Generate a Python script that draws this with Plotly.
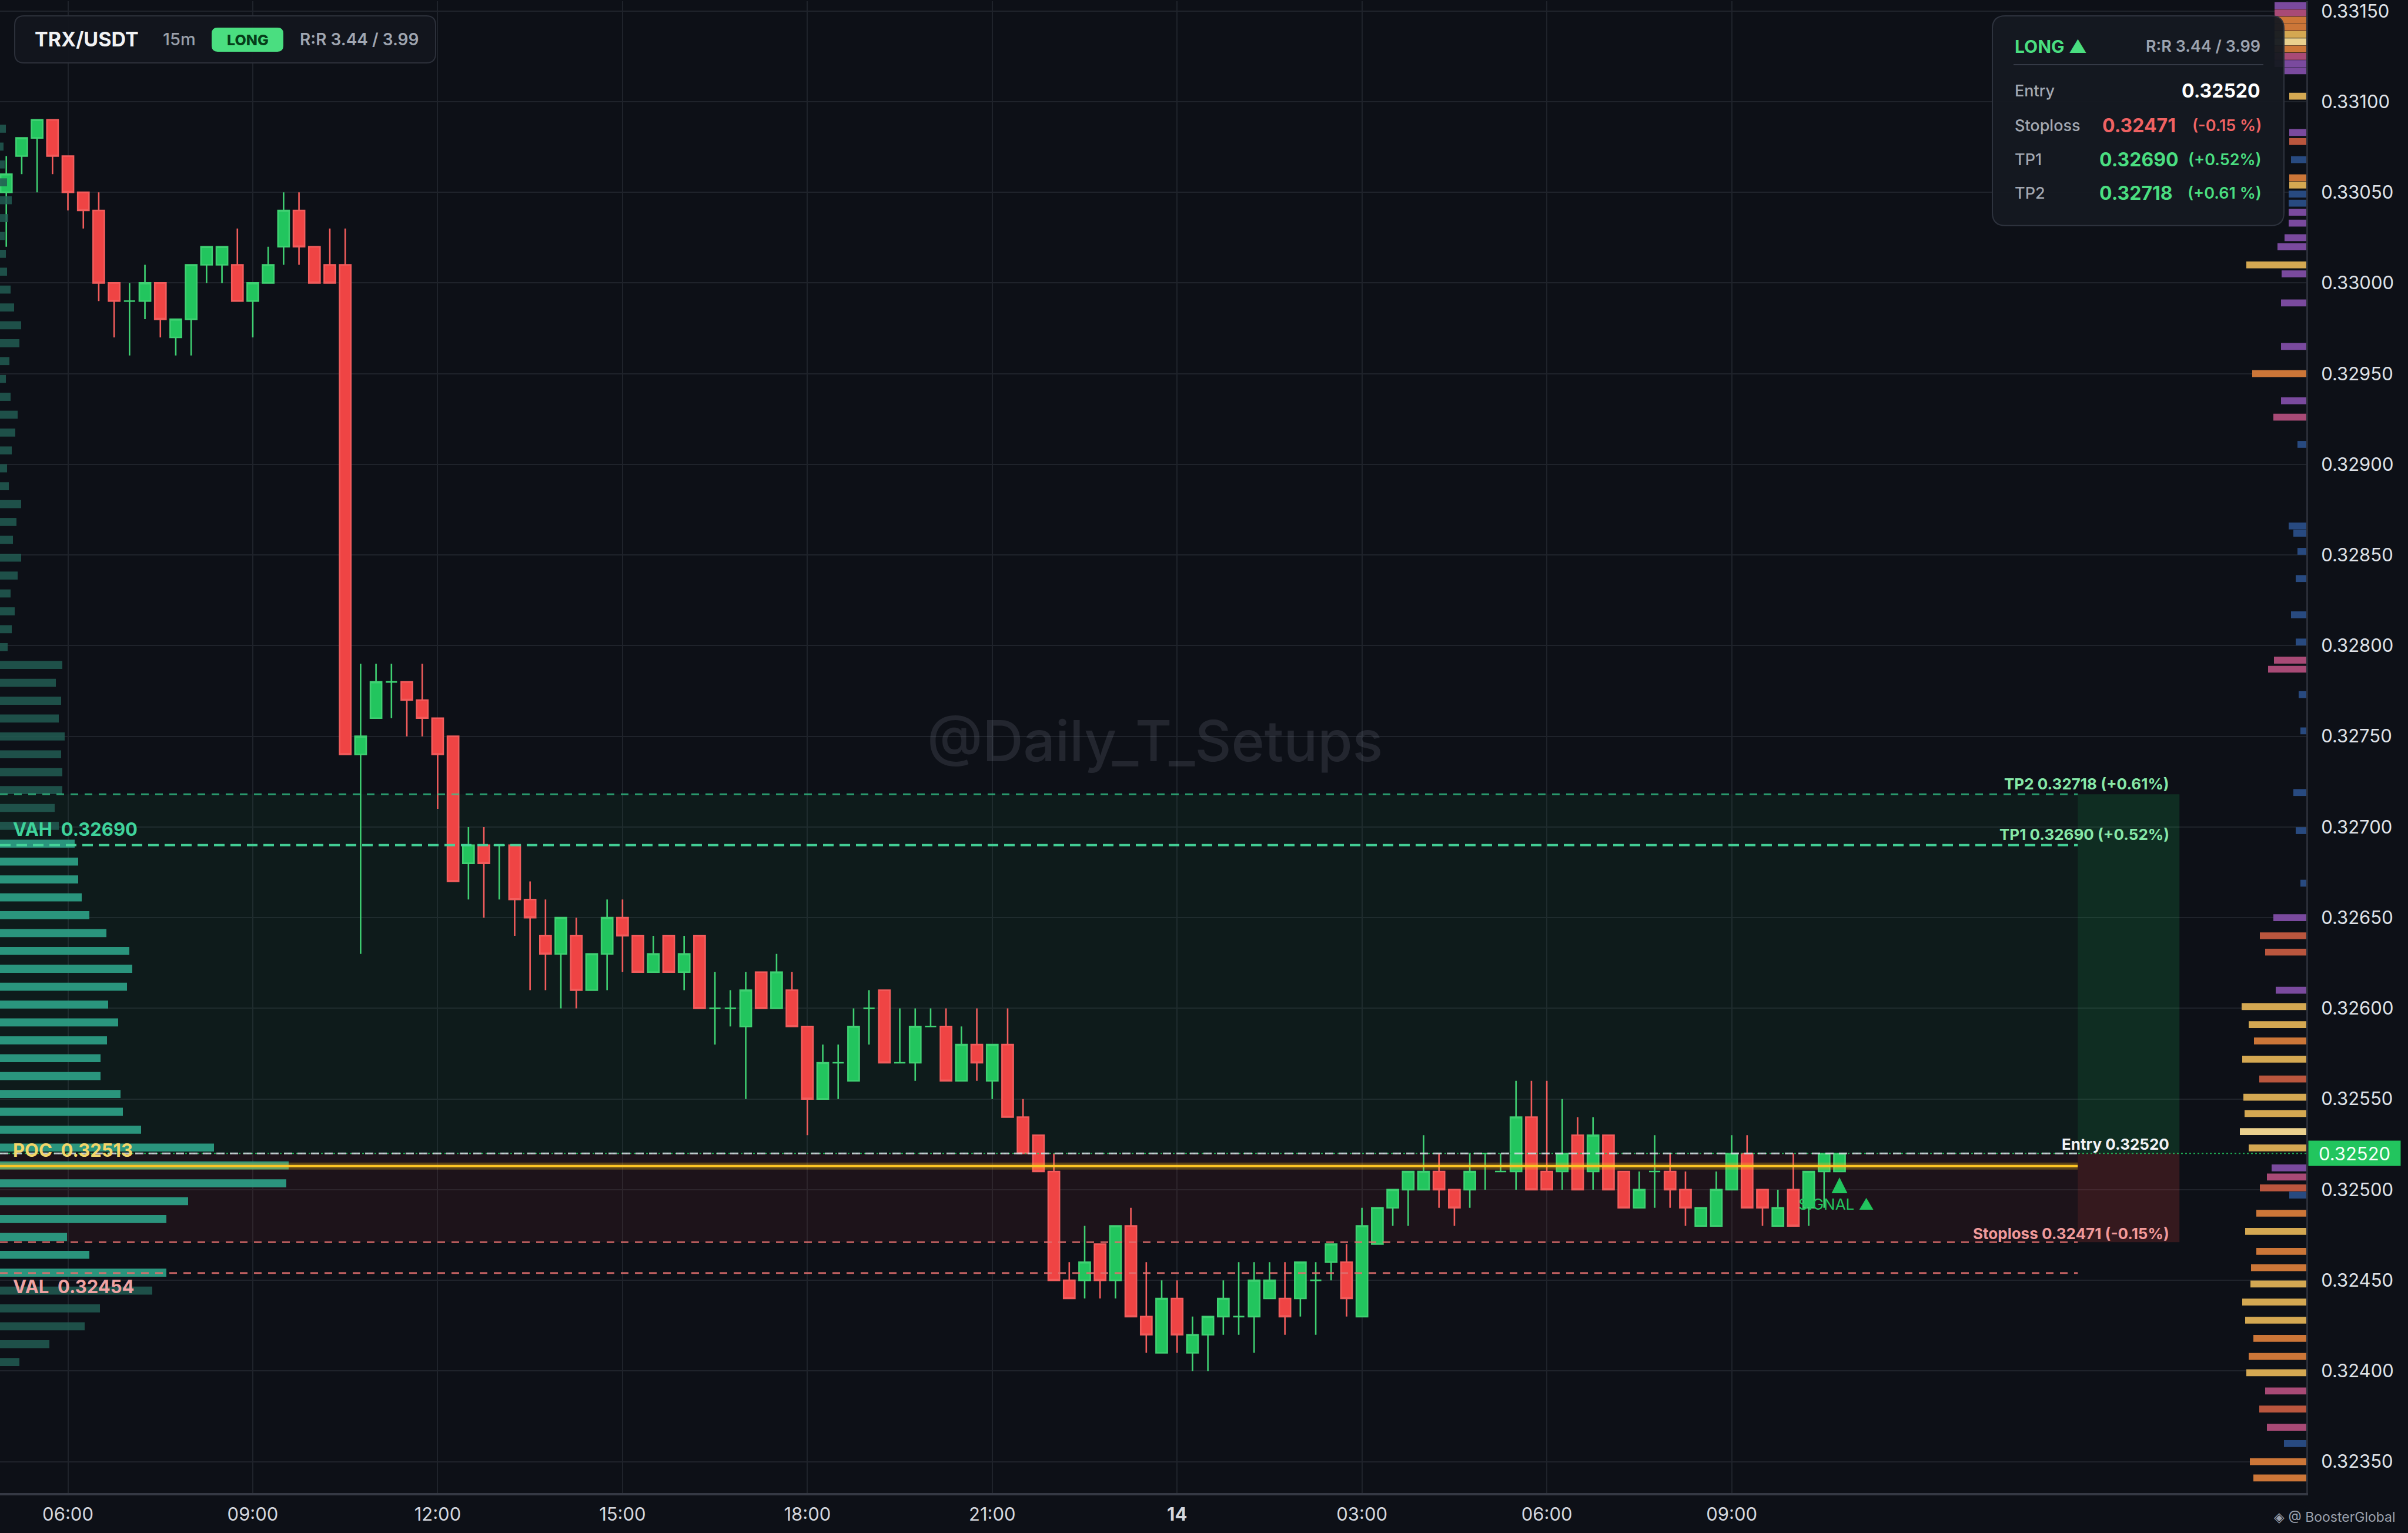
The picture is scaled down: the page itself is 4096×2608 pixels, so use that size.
import plotly.graph_objects as go
import pandas as pd

# ---------------- data ----------------
SYMBOL = "TRX/USDT"
TIMEFRAME = "15m"
SIDE = "LONG"
RR = ("3.44", "3.99")
START = "2025-06-13 05:00"

OPEN = [0.3305, 0.3307, 0.3308, 0.3309, 0.3307, 0.3305, 0.3304, 0.3300, 0.3299, 0.3299,
        0.3300, 0.3297, 0.3298, 0.3301, 0.3301, 0.3301, 0.3299, 0.3300, 0.3302, 0.3304,
        0.3302, 0.3301, 0.3301, 0.3274, 0.3276, 0.3278, 0.3278, 0.3277, 0.3276, 0.3275,
        0.3268, 0.3269, 0.3269, 0.3269, 0.3266, 0.3264, 0.3263, 0.3264, 0.3261, 0.3263,
        0.3265, 0.3264, 0.3262, 0.3264, 0.3262, 0.3264, 0.3260, 0.3260, 0.3259, 0.3262,
        0.3260, 0.3261, 0.3259, 0.3255, 0.3257, 0.3256, 0.3260, 0.3261, 0.3257, 0.3257,
        0.3259, 0.3259, 0.3256, 0.3258, 0.3256, 0.3258, 0.3254, 0.3253, 0.3251, 0.3245,
        0.3245, 0.3247, 0.3245, 0.3248, 0.3243, 0.3241, 0.3244, 0.3241, 0.3242, 0.3243,
        0.3243, 0.3243, 0.3244, 0.3244, 0.3244, 0.3245, 0.3246, 0.3246, 0.3243, 0.3247,
        0.3249, 0.3250, 0.3250, 0.3251, 0.3250, 0.3250, 0.3252, 0.3251, 0.3251, 0.3254,
        0.3251, 0.3251, 0.3253, 0.3251, 0.3253, 0.3251, 0.3249, 0.3251, 0.3251, 0.3250,
        0.3248, 0.3248, 0.3250, 0.3252, 0.3250, 0.3248, 0.3250, 0.3249, 0.3251, 0.3251]
HIGH = [0.3307, 0.3308, 0.3309, 0.3309, 0.3307, 0.3305, 0.3305, 0.3300, 0.3300, 0.3301,
        0.3300, 0.3298, 0.3301, 0.3302, 0.3302, 0.3303, 0.3300, 0.3302, 0.3305, 0.3305,
        0.3302, 0.3303, 0.3303, 0.3279, 0.3279, 0.3279, 0.3278, 0.3279, 0.3276, 0.3275,
        0.3270, 0.3270, 0.3269, 0.3269, 0.3267, 0.3266, 0.3265, 0.3265, 0.3263, 0.3266,
        0.3266, 0.3264, 0.3264, 0.3264, 0.3264, 0.3264, 0.3262, 0.3261, 0.3262, 0.3262,
        0.3263, 0.3262, 0.3259, 0.3258, 0.3258, 0.3260, 0.3261, 0.3261, 0.3260, 0.3260,
        0.3260, 0.3260, 0.3259, 0.3260, 0.3258, 0.3260, 0.3255, 0.3253, 0.3252, 0.3246,
        0.3248, 0.3247, 0.3248, 0.3249, 0.3246, 0.3245, 0.3245, 0.3243, 0.3243, 0.3245,
        0.3246, 0.3246, 0.3246, 0.3246, 0.3246, 0.3246, 0.3247, 0.3247, 0.3249, 0.3249,
        0.3250, 0.3251, 0.3253, 0.3252, 0.3250, 0.3252, 0.3252, 0.3252, 0.3256, 0.3256,
        0.3256, 0.3255, 0.3254, 0.3254, 0.3253, 0.3251, 0.3251, 0.3253, 0.3252, 0.3251,
        0.3249, 0.3251, 0.3253, 0.3253, 0.3250, 0.3250, 0.3252, 0.3251, 0.3252, 0.3252]
LOW = [0.3302, 0.3306, 0.3305, 0.3306, 0.3304, 0.3303, 0.3299, 0.3297, 0.3296, 0.3298,
       0.3297, 0.3296, 0.3296, 0.3300, 0.3300, 0.3299, 0.3297, 0.3300, 0.3301, 0.3301,
       0.3300, 0.3300, 0.3274, 0.3263, 0.3276, 0.3276, 0.3275, 0.3275, 0.3271, 0.3267,
       0.3266, 0.3265, 0.3266, 0.3264, 0.3261, 0.3261, 0.3260, 0.3260, 0.3261, 0.3261,
       0.3262, 0.3262, 0.3262, 0.3262, 0.3261, 0.3260, 0.3258, 0.3259, 0.3255, 0.3260,
       0.3260, 0.3259, 0.3253, 0.3255, 0.3255, 0.3256, 0.3258, 0.3257, 0.3257, 0.3256,
       0.3259, 0.3256, 0.3256, 0.3256, 0.3255, 0.3254, 0.3252, 0.3251, 0.3245, 0.3244,
       0.3244, 0.3244, 0.3244, 0.3243, 0.3241, 0.3241, 0.3241, 0.3240, 0.3240, 0.3242,
       0.3242, 0.3241, 0.3244, 0.3242, 0.3243, 0.3242, 0.3245, 0.3243, 0.3243, 0.3247,
       0.3248, 0.3248, 0.3250, 0.3249, 0.3248, 0.3249, 0.3250, 0.3251, 0.3250, 0.3250,
       0.3250, 0.3250, 0.3250, 0.3250, 0.3250, 0.3249, 0.3249, 0.3249, 0.3249, 0.3248,
       0.3248, 0.3248, 0.3250, 0.3249, 0.3248, 0.3248, 0.3248, 0.3248, 0.3249, 0.3251]
CLOSE = [0.3306, 0.3308, 0.3309, 0.3307, 0.3305, 0.3304, 0.3300, 0.3299, 0.3299, 0.3300,
         0.3298, 0.3298, 0.3301, 0.3302, 0.3302, 0.3299, 0.3300, 0.3301, 0.3304, 0.3302,
         0.3300, 0.3300, 0.3274, 0.3275, 0.3278, 0.3278, 0.3277, 0.3276, 0.3274, 0.3267,
         0.3269, 0.3268, 0.3269, 0.3266, 0.3265, 0.3263, 0.3265, 0.3261, 0.3263, 0.3265,
         0.3264, 0.3262, 0.3263, 0.3262, 0.3263, 0.3260, 0.3260, 0.3260, 0.3261, 0.3260,
         0.3262, 0.3259, 0.3255, 0.3257, 0.3257, 0.3259, 0.3260, 0.3257, 0.3257, 0.3259,
         0.3259, 0.3256, 0.3258, 0.3257, 0.3258, 0.3254, 0.3252, 0.3251, 0.3245, 0.3244,
         0.3246, 0.3245, 0.3248, 0.3243, 0.3242, 0.3244, 0.3242, 0.3242, 0.3243, 0.3244,
         0.3243, 0.3245, 0.3245, 0.3243, 0.3246, 0.3245, 0.3247, 0.3244, 0.3248, 0.3249,
         0.3250, 0.3251, 0.3251, 0.3250, 0.3249, 0.3251, 0.3252, 0.3251, 0.3254, 0.3250,
         0.3250, 0.3252, 0.3250, 0.3253, 0.3250, 0.3249, 0.3250, 0.3251, 0.3250, 0.3249,
         0.3249, 0.3250, 0.3252, 0.3249, 0.3249, 0.3249, 0.3248, 0.3251, 0.3252, 0.3252]

ENTRY = 0.32520
STOPLOSS = 0.32471
TP1 = 0.32690
TP2 = 0.32718
VAH = 0.32690
POC = 0.32513
VAL = 0.32454

# volume profile, bins from lowest to highest price
VP_VOLUME = [33, 84, 144, 170, 259, 283, 152, 114, 283, 320,
             487, 491, 364, 240, 209, 205, 171, 171, 182, 201,
             184, 216, 225, 220, 181, 152, 139, 133, 133, 127,
             100, 93, 106, 106, 104, 110, 100, 104, 95, 106,
             13, 20, 25, 18, 30, 36, 22, 28, 36, 15,
             12, 20, 26, 30, 18, 10, 16, 33, 36, 24,
             18, 12, 10, 8, 14, 20, 12, 8, 6, 10]

# order-book liquidity (right side)
LIQ_PRICE = [0.33153, 0.33149, 0.33145, 0.33141, 0.33137, 0.33133, 0.33129, 0.33125, 0.33121, 0.33117,
             0.33103, 0.33083, 0.33078, 0.33068, 0.33058, 0.33054, 0.33049, 0.33044, 0.33039, 0.33033,
             0.33025, 0.33020, 0.33010, 0.33005, 0.32989, 0.32965, 0.32950, 0.32935, 0.32926, 0.32911,
             0.32866, 0.32862, 0.32852, 0.32837, 0.32817, 0.32802, 0.32792, 0.32787, 0.32773, 0.32753,
             0.32719, 0.32698, 0.32669, 0.32650, 0.32640, 0.32631, 0.32610, 0.32601, 0.32591, 0.32582,
             0.32572, 0.32561, 0.32551, 0.32542, 0.32532, 0.32523, 0.32512, 0.32507, 0.32501, 0.32497,
             0.32487, 0.32477, 0.32466, 0.32457, 0.32448, 0.32438, 0.32428, 0.32418, 0.32408, 0.32399,
             0.32389, 0.32379, 0.32369, 0.32360, 0.32350, 0.32341]
LIQ_SIZE = [54, 54, 54, 54, 54, 54, 54, 54, 54, 40,
            29, 29, 29, 26, 29, 29, 30, 30, 30, 30,
            37, 49, 102, 42, 43, 43, 92, 43, 56, 15,
            30, 22, 15, 18, 26, 18, 55, 65, 13, 10,
            22, 18, 10, 56, 79, 70, 52, 110, 98, 89,
            109, 80, 107, 105, 113, 98, 59, 67, 79, 29,
            85, 104, 85, 94, 95, 109, 104, 90, 98, 102,
            70, 80, 67, 38, 96, 90]
LIQ_KIND = ["p", "pk", "o", "o", "y", "ly", "o", "pk", "p", "p",
            "y", "p", "r", "b", "o", "y", "b", "b", "p", "p",
            "p", "p", "y", "p", "p", "p", "o", "p", "pk", "b",
            "b", "b", "b", "b", "b", "b", "pk", "pk", "b", "b",
            "b", "b", "b", "p", "r", "r", "p", "y", "y", "o",
            "y", "r", "y", "y", "ly", "y", "p", "pk", "r", "b",
            "o", "y", "o", "o", "y", "y", "y", "o", "o", "y",
            "pk", "r", "pk", "b", "o", "o"]

Y_TICKS = [0.3235, 0.3240, 0.3245, 0.3250, 0.3255, 0.3260, 0.3265, 0.3270, 0.3275,
           0.3280, 0.3285, 0.3290, 0.3295, 0.3300, 0.3305, 0.3310, 0.3315]
X_TICKS = ["2025-06-13 06:00", "2025-06-13 09:00", "2025-06-13 12:00", "2025-06-13 15:00",
           "2025-06-13 18:00", "2025-06-13 21:00", "2025-06-14 00:00", "2025-06-14 03:00",
           "2025-06-14 06:00", "2025-06-14 09:00"]
X_TICK_TEXT = ["06:00", "09:00", "12:00", "15:00", "18:00", "21:00", "<b>14</b>",
               "03:00", "06:00", "09:00"]

X_RANGE = ["2025-06-13 04:53:52", "2025-06-14 18:19:30"]
Y_RANGE = [0.323327, 0.331554]
PROJ_END = "2025-06-14 14:37"
PROJ_BOX_END = "2025-06-14 16:16"
LABEL_X = "2025-06-14 16:07"

# ---------------- style ----------------
W, H = 4096, 2608
ML, MR, MT, MB = 0, 173, 0, 68
PW, PH = W - ML - MR, H - MT - MB
FONT = "Inter"
BG = "#0d1017"
GREEN = "#22c55e"
GREEN_L = "#3fd072"
RED = "#ef4444"
RED_L = "#f25c5c"

times = pd.date_range(START, periods=len(OPEN), freq="15min")

fig = go.Figure()

# ---- liquidity heatmap (right) ----
liq_colors = {"p": "rgb(122,74,158)", "pk": "rgb(168,74,118)", "o": "rgb(204,118,56)",
              "r": "rgb(186,86,62)", "y": "rgb(212,168,82)", "ly": "rgb(234,208,142)",
              "b": "rgb(40,74,128)"}
fig.add_trace(go.Bar(orientation="h", y=LIQ_PRICE, x=LIQ_SIZE, xaxis="x3", yaxis="y",
                     marker=dict(color=[liq_colors[k] for k in LIQ_KIND], line=dict(width=0)),
                     width=0.000038, hoverinfo="skip", showlegend=False))

# ---- volume profile (left) ----
vp_low, vp_high = min(LOW), max(HIGH)
nb = len(VP_VOLUME)
bsz = (vp_high - vp_low) / nb
vp_centers = [vp_low + (k + 0.5) * bsz for k in range(nb)]
vp_colors = ["rgba(44,160,134,0.92)" if (VAL - bsz / 2 <= c <= VAH + bsz / 2) else "rgba(34,92,82,0.85)"
             for c in vp_centers]
fig.add_trace(go.Bar(orientation="h", y=vp_centers, x=VP_VOLUME, xaxis="x2", yaxis="y",
                     marker=dict(color=vp_colors, line=dict(width=0)),
                     width=bsz * 0.45, hoverinfo="skip", showlegend=False))

# ---- candles ----
gi = [i for i in range(len(OPEN)) if CLOSE[i] >= OPEN[i]]
ri = [i for i in range(len(OPEN)) if CLOSE[i] < OPEN[i]]
for idx, fill, edge in ((gi, GREEN, GREEN_L), (ri, RED, RED_L)):
    fig.add_trace(go.Candlestick(
        x=[times[i] for i in idx], open=[OPEN[i] for i in idx], high=[HIGH[i] for i in idx],
        low=[LOW[i] for i in idx], close=[CLOSE[i] for i in idx],
        increasing=dict(fillcolor=fill, line=dict(color=edge, width=2.6)),
        decreasing=dict(fillcolor=fill, line=dict(color=edge, width=2.6)),
        whiskerwidth=0, hoverinfo="skip", showlegend=False))

shapes = []
x_left = X_RANGE[0]
# zones
shapes += [
    dict(type="rect", xref="x", yref="y", x0=x_left, x1=PROJ_END, y0=ENTRY, y1=TP2,
         fillcolor="rgba(34,197,94,0.06)", line=dict(width=0), layer="between"),
    dict(type="rect", xref="x", yref="y", x0=PROJ_END, x1=PROJ_BOX_END, y0=ENTRY, y1=TP2,
         fillcolor="rgba(34,197,94,0.16)", line=dict(width=0), layer="between"),
    dict(type="rect", xref="x", yref="y", x0=x_left, x1=PROJ_END, y0=STOPLOSS, y1=ENTRY,
         fillcolor="rgba(239,68,68,0.07)", line=dict(width=0), layer="between"),
    dict(type="rect", xref="x", yref="y", x0=PROJ_END, x1=PROJ_BOX_END, y0=STOPLOSS, y1=ENTRY,
         fillcolor="rgba(239,68,68,0.18)", line=dict(width=0), layer="between"),
]


def hline(y, color, width, dash, x0=x_left, x1=PROJ_END):
    return dict(type="line", xref="x", yref="y", x0=x0, x1=x1, y0=y, y1=y,
                line=dict(color=color, width=width, dash=dash), layer="above")


shapes += [
    hline(ENTRY, "rgba(34,197,94,0.85)", 2, "3px,4px", x0=x_left, x1=X_RANGE[1]),
    hline(TP2, "rgba(52,200,140,0.75)", 3, "13px,11px"),
    hline(TP1, "rgba(70,215,155,0.95)", 4, "18px,10px"),
    hline(ENTRY, "rgba(215,220,228,0.85)", 3, "14px,9px"),
    hline(POC, "rgba(250,190,30,0.28)", 12, "solid"),
    hline(POC, "rgb(252,196,36)", 4, "solid"),
    hline(STOPLOSS, "rgba(225,110,110,0.85)", 3, "13px,11px"),
    hline(VAL, "rgba(225,110,110,0.85)", 3, "13px,11px"),
]


def X(v):
    return v / PW


def Y(v):
    return 1 - v / PH


def rrect(x0, y0, x1, y1, r, fill, line_color, lw):
    p = (f"M {X(x0 + r)},{Y(y0)} L {X(x1 - r)},{Y(y0)} Q {X(x1)},{Y(y0)} {X(x1)},{Y(y0 + r)} "
         f"L {X(x1)},{Y(y1 - r)} Q {X(x1)},{Y(y1)} {X(x1 - r)},{Y(y1)} "
         f"L {X(x0 + r)},{Y(y1)} Q {X(x0)},{Y(y1)} {X(x0)},{Y(y1 - r)} "
         f"L {X(x0)},{Y(y0 + r)} Q {X(x0)},{Y(y0)} {X(x0 + r)},{Y(y0)} Z")
    return dict(type="path", xref="paper", yref="paper", path=p, fillcolor=fill,
                line=dict(color=line_color, width=lw), layer="above")


shapes += [
    rrect(25, 25, 741, 105, 16, "rgba(19,22,30,0.95)", "#2c303a", 2),
    rrect(360, 45, 482, 86, 10, "#4ade80", "#4ade80", 0),
    rrect(3389, 25, 3885, 382, 22, "rgba(21,25,33,0.95)", "#2e333e", 2),
    dict(type="line", xref="paper", yref="paper", x0=X(3425), x1=X(3850), y0=Y(108), y1=Y(108),
         line=dict(color="#353a46", width=2), layer="above"),
]

ann = []


def txt(xp, yp, text, size, color, anchor="left", weight=400):
    ann.append(dict(xref="paper", yref="paper", x=X(xp), y=Y(yp), text=text, showarrow=False,
                    xanchor=anchor, yanchor="middle",
                    font=dict(family=FONT, size=size, color=color, weight=weight)))


# header
txt(57, 65, SYMBOL, 34, "#f1f2f4", weight=700)
txt(275, 65, TIMEFRAME, 29, "#9aa0aa", weight=500)
txt(421, 66, SIDE, 25, "#063d19", anchor="center", weight=800)
txt(508, 65, f"R:R {RR[0]} / {RR[1]}", 28, "#a0a6b1", weight=600)

# info box
pct = lambda v: (v / ENTRY - 1) * 100
txt(3425, 77, f"{SIDE} ▲", 30, "#4ade80", weight=700)
txt(3847, 77, f"R:R {RR[0]} / {RR[1]}", 27, "#9ca3af", anchor="right", weight=600)
txt(3425, 153, "Entry", 27, "#a3a8b2", weight=500)
txt(3847, 153, f"{ENTRY:.5f}", 32, "#ffffff", anchor="right", weight=700)
txt(3425, 212, "Stoploss", 27, "#a3a8b2", weight=500)
txt(3574, 212, f"{STOPLOSS:.5f}", 32, "#f06262", weight=700)
txt(3849, 212, f"({pct(STOPLOSS):.2f} %)", 27, "#f06262", anchor="right", weight=600)
txt(3425, 270, "TP1", 27, "#a3a8b2", weight=500)
txt(3569, 270, f"{TP1:.5f}", 32, "#4ade80", weight=700)
txt(3849, 270, f"(+{pct(TP1):.2f}%)", 27, "#4ade80", anchor="right", weight=600)
txt(3425, 327, "TP2", 27, "#a3a8b2", weight=500)
txt(3569, 327, f"{TP2:.5f}", 32, "#4ade80", weight=700)
txt(3849, 327, f"(+{pct(TP2):.2f} %)", 27, "#4ade80", anchor="right", weight=600)

# watermark
txt(1964, 1259, "@Daily_T_Setups", 96, "rgba(125,130,145,0.20)", anchor="center", weight=500)
ann.append(dict(xref="paper", yref="paper", x=X(3866), y=Y(2581), text="◈ @ BoosterGlobal",
                showarrow=False, xanchor="left", yanchor="middle",
                font=dict(family=FONT, size=23, color="#9aa0ac")))


def lvl(y, text, color, shift, size=26):
    ann.append(dict(xref="x", yref="y", x=LABEL_X, y=y, text=f"<b>{text}</b>", showarrow=False,
                    xanchor="right", yanchor="middle", yshift=shift,
                    font=dict(family=FONT, size=size, color=color)))


lvl(TP2, f"TP2 {TP2:.5f} (+{pct(TP2):.2f}%)", "#86e8a8", 18)
lvl(TP1, f"TP1 {TP1:.5f} (+{pct(TP1):.2f}%)", "#86e8a8", 18)
lvl(ENTRY, f"Entry {ENTRY:.5f}", "#f2f3f5", 16)
lvl(STOPLOSS, f"Stoploss {STOPLOSS:.5f} ({pct(STOPLOSS):.2f}%)", "#f19a9a", 15)


def vlab(y, text, color, shift):
    ann.append(dict(xref="paper", yref="y", x=X(20), y=y, text=f"<b>{text}</b>", showarrow=False,
                    xanchor="left", yanchor="middle", yshift=shift,
                    font=dict(family=FONT, size=31, color=color)))


vlab(VAH, f"VAH  {VAH:.5f}", "#3fd39b", 27)
vlab(POC, f"POC  {POC:.5f}", "#f3d66a", 27)
vlab(VAL, f"VAL  {VAL:.5f}", "#efa3a3", -23)

# current price tag
ann.append(dict(xref="paper", yref="y", x=1, y=ENTRY, xanchor="left",
                xshift=3, yanchor="middle", text=f"{ENTRY:.5f}", showarrow=False,
                bgcolor=GREEN, width=154, height=40, align="center",
                font=dict(family=FONT, size=31, color="#f4fff7")))

# signal marker
ann.append(dict(xref="x", yref="y", x=times[-1], y=LOW[-1], text="", showarrow=True,
                ax=0, ay=28, axref="pixel", ayref="pixel", yshift=-10,
                arrowhead=2, arrowsize=0.9, arrowwidth=6, arrowcolor=GREEN))
ann.append(dict(xref="x", yref="y", x=times[-1], y=LOW[-1], text="SIGNAL ▲", showarrow=False,
                xanchor="center", xshift=-6, yanchor="middle", yshift=-55,
                font=dict(family=FONT, size=26, color=GREEN)))

fig.update_layout(
    width=W, height=H, autosize=False,
    margin=dict(l=ML, r=MR, t=MT, b=MB, pad=0),
    paper_bgcolor=BG, plot_bgcolor=BG,
    showlegend=False, boxgap=0.27, boxgroupgap=0,
    shapes=shapes, annotations=ann,
    xaxis=dict(type="date", range=X_RANGE, rangeslider=dict(visible=False),
               tickmode="array", tickvals=X_TICKS, ticktext=X_TICK_TEXT,
               showgrid=True, gridcolor="#1f232b", gridwidth=2,
               showline=True, linecolor="#353944", linewidth=4,
               ticks="", ticklabelstandoff=6, ticklabeloverflow="allow",
               tickfont=dict(family=FONT, size=31, color="#d4d7de"), zeroline=False),
    xaxis2=dict(overlaying="x", anchor="y", range=[0, PW], visible=False, fixedrange=True),
    xaxis3=dict(overlaying="x", anchor="y", range=[PW, 0], visible=False, fixedrange=True),
    yaxis=dict(side="right", range=Y_RANGE, tickmode="array", tickvals=Y_TICKS,
               tickformat=".5f", showgrid=True, gridcolor="#1f232b", gridwidth=2,
               showline=True, linecolor="#2a2e38", linewidth=3, ticks="",
               ticklabelstandoff=16, ticklabeloverflow="allow", zeroline=False,
               tickfont=dict(family=FONT, size=31, color="#dfe2e8")),
)

fig.write_html("out.html", config={"displayModeBar": False},
               post_script="document.body.style.margin='0px';")
